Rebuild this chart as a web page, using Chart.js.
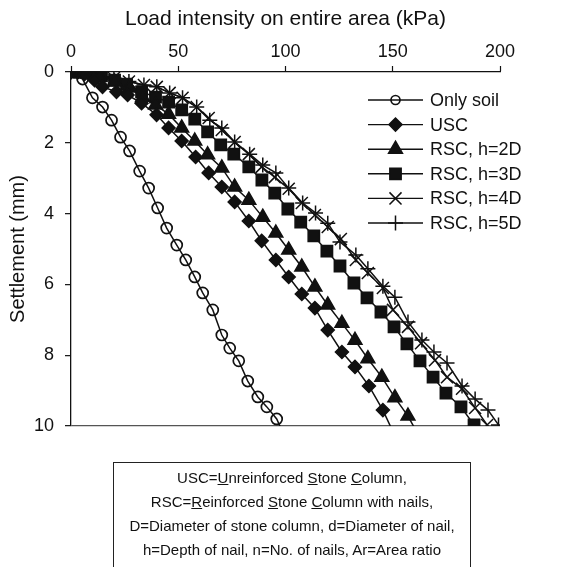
<!DOCTYPE html>
<html>
<head>
<meta charset="utf-8">
<script src="https://cdn.jsdelivr.net/npm/chart.js@4.4.1/dist/chart.umd.min.js"></script>
<style>
  html, body { margin: 0; padding: 0; background: #fff; }
  #wrap { position: relative; width: 582px; height: 567px; overflow: hidden; }
  #myChart { display: block; }
  #note {
    position: absolute; left: 113px; top: 462px; width: 358px; height: 120px;
    border: 1px solid #222; box-sizing: border-box; text-align: center;
    font: 15px "Liberation Sans", Arial, sans-serif; line-height: 24px;
    padding-top: 3px; color: #111;
  }
</style>
</head>
<body>
<div id="wrap">
  <canvas id="myChart" width="582" height="567"></canvas>
  <div id="note">
    USC=<u>U</u>nreinforced <u>S</u>tone <u>C</u>olumn,<br>
    RSC=<u>R</u>einforced <u>S</u>tone <u>C</u>olumn with nails,<br>
    D=Diameter of stone column, d=Diameter of nail,<br>
    h=Depth of nail, n=No. of nails, Ar=Area ratio
  </div>
</div>
<script>
// load (kPa) vs settlement (mm)
const seriesNames = ["Only soil", "USC", "RSC, h=2D", "RSC, h=3D", "RSC, h=4D", "RSC, h=5D"];

const soilLoad = [0, 5.4, 10.0, 14.7, 18.9, 23.1, 27.3, 32.0, 36.2, 40.4, 44.6, 49.3, 53.5, 57.7, 61.4, 66.1, 70.3, 74.0, 78.2, 82.4, 87.1, 91.3, 95.9, 98.5];
const soilSettle = [0, 0.20, 0.73, 0.99, 1.36, 1.84, 2.23, 2.80, 3.28, 3.84, 4.41, 4.89, 5.31, 5.79, 6.24, 6.72, 7.43, 7.80, 8.16, 8.73, 9.18, 9.46, 9.80, 10.15];

const uscLoad = [0, 6.3, 11, 14.7, 21.2, 26.4, 32.9, 39.9, 45.5, 51.6, 58.1, 64.2, 70.3, 76.3, 82.9, 88.9, 95.5, 101.5, 107.6, 113.7, 119.7, 126.3, 132.4, 138.9, 145.4, 150];
const uscSettle = [0, 0.06, 0.23, 0.42, 0.56, 0.65, 0.88, 1.21, 1.58, 1.95, 2.40, 2.85, 3.25, 3.67, 4.21, 4.77, 5.31, 5.79, 6.27, 6.67, 7.29, 7.91, 8.33, 8.87, 9.55, 10.15];

const rsc2Load = [0, 7.7, 13.3, 20.3, 27.3, 33.4, 39.4, 45.5, 51.6, 57.7, 63.7, 70.3, 76.3, 82.9, 89.4, 95.5, 101.5, 107.6, 113.7, 119.7, 126.3, 132.4, 138.4, 144.9, 151.0, 157.1, 161];
const rsc2Settle = [0, 0.06, 0.14, 0.28, 0.45, 0.71, 0.93, 1.19, 1.58, 1.95, 2.34, 2.71, 3.25, 3.62, 4.10, 4.55, 5.03, 5.51, 6.07, 6.58, 7.10, 7.58, 8.10, 8.62, 9.20, 9.72, 10.15];

const rsc3Load = [0, 4, 8.6, 14.2, 20.3, 25.9, 32.9, 39.4, 45.5, 51.6, 57.7, 63.7, 69.8, 75.9, 82.9, 89.0, 95.0, 101.1, 107.1, 113.2, 119.3, 125.4, 131.9, 138.0, 144.5, 150.6, 156.6, 162.7, 168.8, 174.8, 181.8, 187.9, 189.5];
const rsc3Settle = [0, 0, 0.03, 0.11, 0.23, 0.34, 0.56, 0.71, 0.85, 1.07, 1.33, 1.69, 2.06, 2.32, 2.68, 3.05, 3.42, 3.87, 4.24, 4.63, 5.06, 5.48, 5.96, 6.38, 6.78, 7.20, 7.68, 8.16, 8.62, 9.07, 9.46, 9.97, 10.15];

const rsc4Load = [0, 6, 12, 20, 27, 34, 40, 46, 52, 58.6, 64.2, 70.3, 76.3, 82.9, 88.9, 95, 101.5, 107.6, 113.7, 119.7, 125.8, 132.8, 138.4, 145.4, 150.1, 157.1, 163.2, 169.7, 175.3, 182.3, 188.4, 194, 195.5];
const rsc4Settle = [0, 0.03, 0.08, 0.17, 0.27, 0.37, 0.42, 0.59, 0.73, 0.99, 1.30, 1.64, 1.98, 2.32, 2.68, 2.97, 3.30, 3.70, 4.04, 4.38, 4.72, 5.31, 5.68, 6.10, 6.72, 7.20, 7.66, 8.14, 8.62, 8.95, 9.49, 9.97, 10.15];

const rsc5Load = [0, 6, 12, 20, 27, 34, 40, 46, 52, 58.6, 64.7, 70.3, 76.3, 83.3, 89.4, 95.5, 101.5, 108, 114, 119.7, 125.4, 132.8, 138.4, 145.4, 151, 157.1, 163.6, 169.2, 175.3, 182.3, 188.4, 194.4, 199.3];
const rsc5Settle = [0, 0.03, 0.08, 0.17, 0.27, 0.37, 0.42, 0.59, 0.73, 0.99, 1.36, 1.58, 1.98, 2.32, 2.63, 2.85, 3.28, 3.70, 3.98, 4.27, 4.80, 5.17, 5.56, 6.05, 6.36, 7.06, 7.57, 7.91, 8.22, 8.87, 9.24, 9.55, 9.97];

const xTicks = [0, 50, 100, 150, 200];
const yTicks = [0, 2, 4, 6, 8, 10];

const INK = "#111";
const FONT = '"Liberation Sans", Arial, Helvetica, sans-serif';

const toPoints = (xs, ys) => xs.map((x, i) => ({ x: x, y: ys[i] }));

// last point of a series is only the line running past the bottom edge
const makeSet = (i, xs, ys, style, r, fill, lineTail) => {
  const n = xs.length;
  return {
    label: seriesNames[i],
    data: toPoints(xs, ys),
    borderColor: INK,
    borderWidth: 1.5,
    pointStyle: style,
    pointRadius: xs.map((_, k) => (lineTail && k === n - 1 ? 0 : r)),
    markerRadius: r,
    pointBackgroundColor: fill,
    pointBorderColor: INK,
    pointBorderWidth: style === "circle" ? 1.7 : 1.5,
    tension: 0,
  };
};

const datasets = [
  makeSet(0, soilLoad, soilSettle, "circle", 5.5, "rgba(0,0,0,0)", true),
  makeSet(1, uscLoad, uscSettle, "rectRot", 6.5, INK, true),
  makeSet(2, rsc2Load, rsc2Settle, "triangle", 8, INK, true),
  makeSet(3, rsc3Load, rsc3Settle, "rect", 8, INK, true),
  makeSet(4, rsc4Load, rsc4Settle, "crossRot", 8.5, INK, true),
  makeSet(5, rsc5Load, rsc5Settle, "cross", 7.5, INK, false),
];

// legend drawn inside the plot: a short line with the marker on it
const lineLegend = {
  id: "lineLegend",
  afterDraw(chart) {
    const ctx = chart.ctx;
    const x0 = 368, x1 = 423, tx = 430, y0 = 100, step = 24.6;
    chart.data.datasets.forEach((ds, i) => {
      const y = y0 + i * step;
      ctx.save();
      ctx.strokeStyle = INK;
      ctx.lineWidth = 1.4;
      ctx.beginPath();
      ctx.moveTo(x0, y);
      ctx.lineTo(x1, y);
      ctx.stroke();
      ctx.fillStyle = ds.pointBackgroundColor;
      ctx.strokeStyle = INK;
      ctx.lineWidth = ds.pointBorderWidth;
      const r = ds.pointStyle === "circle" ? 4.5 : ds.markerRadius;
      Chart.helpers.drawPoint(ctx, { pointStyle: ds.pointStyle, radius: r, borderWidth: ds.pointBorderWidth, rotation: 0 }, (x0 + x1) / 2, y);
      ctx.fillStyle = INK;
      ctx.font = "18px " + FONT;
      ctx.textBaseline = "middle";
      ctx.textAlign = "left";
      ctx.fillText(ds.label, tx, y + 1);
      ctx.restore();
    });
  },
};

Chart.defaults.font.family = FONT;
Chart.defaults.color = INK;

const ctx = document.getElementById("myChart").getContext("2d");
const myChart = new Chart(ctx, {
  type: "line",
  data: { datasets: datasets },
  options: {
    responsive: false,
    animation: false,
    events: [],
    layout: { padding: { left: 0, top: 0, right: 82, bottom: 141 } },
    plugins: {
      legend: { display: false },
      tooltip: { enabled: false },
    },
    elements: { line: { fill: false } },
    scales: {
      x: {
        type: "linear",
        position: "top",
        min: 0,
        max: 200,
        afterFit: (scale) => { scale.height = 72; },
        afterBuildTicks: (scale) => { scale.ticks = xTicks.map((v) => ({ value: v })); },
        ticks: { font: { size: 18 }, padding: 3, color: INK },
        grid: { drawOnChartArea: false, tickLength: 6, tickColor: INK, tickWidth: 1.2 },
        border: { display: true, color: INK, width: 1.3 },
        title: {
          display: true,
          text: "Load intensity on entire area (kPa)",
          font: { size: 21 },
          color: INK,
          padding: { top: 7, bottom: 0 },
        },
      },
      y: {
        type: "linear",
        position: "left",
        reverse: true,
        min: 0,
        max: 10,
        afterFit: (scale) => { scale.width = 71; },
        afterBuildTicks: (scale) => { scale.ticks = yTicks.map((v) => ({ value: v })); },
        ticks: { font: { size: 18 }, padding: 11, color: INK },
        grid: {
          color: (c) => (c.tick && c.tick.value === 10 ? "#555" : "rgba(0,0,0,0)"),
          lineWidth: 1.3,
          tickLength: 6,
          tickColor: INK,
          tickWidth: 1.2,
        },
        border: { display: true, color: INK, width: 1.3 },
        title: {
          display: true,
          text: "Settlement (mm)",
          font: { size: 20 },
          color: INK,
          padding: { top: 6, bottom: 0 },
        },
      },
    },
  },
  plugins: [lineLegend],
});
</script>
</body>
</html>
